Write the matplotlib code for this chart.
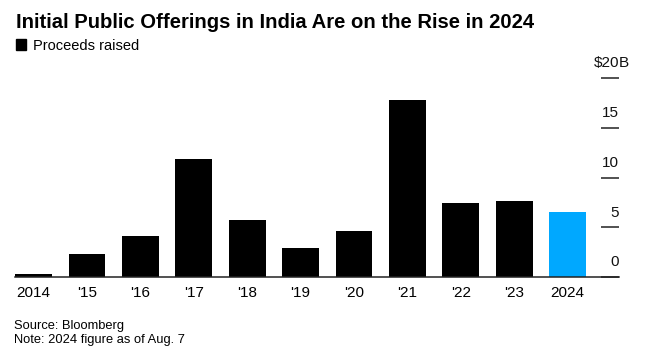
import numpy as np
import matplotlib
matplotlib.use("Agg")
import matplotlib.pyplot as plt
from matplotlib.patches import Patch
from matplotlib.transforms import offset_copy

# =========================
# DATA
# =========================
years = ["2014", "'15", "'16", "'17", "'18", "'19", "'20", "'21", "'22", "'23", "2024"]
proceeds = [0.3, 2.3, 4.1, 11.9, 5.7, 2.9, 4.6, 17.8, 7.45, 7.6, 6.5]  # $B
y_ticks = [0, 5, 10, 15, 20]
y_labels = ["0", "5", "10", "15", "$20"]

# =========================
# STYLE
# =========================
plt.rcParams["font.family"] = ["Liberation Sans", "DejaVu Sans"]
BLACK = "#000000"
BLUE = "#00A8FF"
W, H = 647, 354

fig = plt.figure(figsize=(W / 100, H / 100), dpi=100)
ax = fig.add_axes([15 / W, 1 - 277 / H, (619 - 15) / W, (277 - 78) / H])

x = np.arange(len(years))
colors = [BLACK] * (len(years) - 1) + [BLUE]
ax.bar(x, proceeds, width=0.69, color=colors, zorder=2)

ax.set_xlim(-0.35, 10.965)
ax.set_ylim(0, 20)

for s in ["top", "left", "right"]:
    ax.spines[s].set_visible(False)
ax.spines["bottom"].set_color("#222222")
ax.spines["bottom"].set_linewidth(1.1)
ax.spines["bottom"].set_zorder(3)

ax.set_xticks(x)
ax.set_xticklabels(years, fontsize=11)
ax.tick_params(axis="x", length=0, pad=6.5)

# right-side short tick marks, labels sit above them
ax.yaxis.tick_right()
ax.set_yticks(y_ticks)
ax.set_yticklabels([])
ax.tick_params(axis="y", direction="in", length=13, width=1.1, colors="#222222")
ax.yaxis.get_major_ticks()[-1].tick2line.set_color("#888888")

lab_tr = offset_copy(ax.get_yaxis_transform(), fig=fig, x=0, y=10.5, units="points")
for v, lab in zip(y_ticks, y_labels):
    ax.text(1.0, v, lab, transform=lab_tr, ha="right", va="center", fontsize=11, color="#111111")
ax.text(1.0, 20, "B", transform=lab_tr, ha="left", va="center", fontsize=11, color="#111111")

# =========================
# TEXT
# =========================
fig.text(16 / W, 1 - 27.5 / H, "Initial Public Offerings in India Are on the Rise in 2024",
         fontsize=14.6, fontweight="bold", va="baseline", ha="left")

fig.legend(handles=[Patch(facecolor=BLACK, edgecolor=BLACK, label="Proceeds raised")],
           loc="upper left", bbox_to_anchor=(16 / W, 1 - 38.5 / H), frameon=False,
           fontsize=10.5, handlelength=0.7, handleheight=0.7, handletextpad=0.45,
           borderpad=0, borderaxespad=0)

fig.text(14 / W, 1 - 328.5 / H, "Source: Bloomberg", fontsize=9.3, va="baseline", ha="left")
fig.text(14 / W, 1 - 343.5 / H, "Note: 2024 figure as of Aug. 7", fontsize=9.3, va="baseline", ha="left")

fig.savefig("out.png", dpi=100)
